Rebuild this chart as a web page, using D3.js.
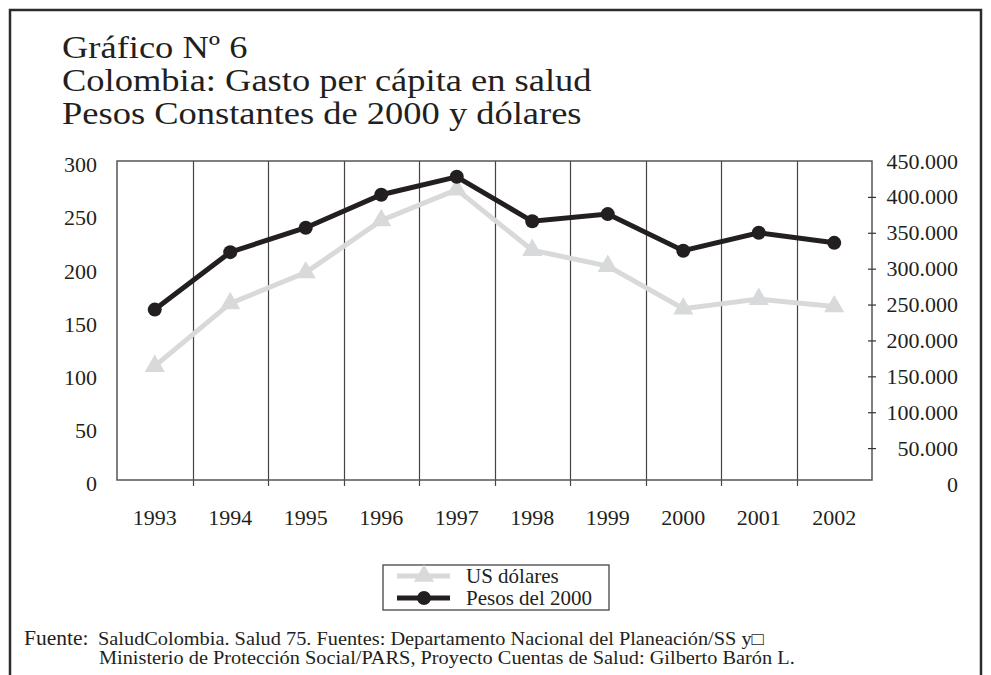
<!DOCTYPE html>
<html>
<head>
<meta charset="utf-8">
<script src="https://cdn.jsdelivr.net/npm/d3@7"></script>
<style>
    body { margin: 0; background: #fff; }
    text { font-family: "Liberation Serif", "Times New Roman", serif; fill: #231f20; }
</style>
</head>
<body>
<svg id="chart" width="991" height="675"></svg>
<script>
// datos
var years = ["1993", "1994", "1995", "1996", "1997", "1998", "1999", "2000", "2001", "2002"];
var usDolares = [109, 168, 197, 246, 275, 218, 203, 163, 172, 165];
var pesos2000 = [243000, 323000, 357000, 403000, 428000, 366000, 376000, 325000, 350000, 336000];
var leftTicks = [0, 50, 100, 150, 200, 250, 300];
var rightTicks = [0, 50000, 100000, 150000, 200000, 250000, 300000, 350000, 400000, 450000];
var titleLines = ["Gráfico Nº 6", "Colombia: Gasto per cápita en salud", "Pesos Constantes de 2000 y dólares"];
var seriesNames = ["US dólares", "Pesos del 2000"];
var fuenteLines = ["SaludColombia. Salud 75. Fuentes: Departamento Nacional del Planeación/SS y\u25A1",
    "Ministerio de Protección Social/PARS, Proyecto Cuentas de Salud: Gilberto Barón L."];

var svg = d3.select("#chart");
var plotL = 117, plotR = 872, plotT = 161, plotB = 480;
var gray = "#d8d9da", black = "#231f20", gridColor = "#444";

var es = d3.formatLocale({ decimal: ",", thousands: ".", grouping: [3], currency: ["$", ""] });
var fmtMiles = es.format(",");

var x = d3.scaleBand().domain(years).range([plotL, plotR]).padding(0);
var yL = d3.scaleLinear().domain([0, 300]).range([plotB + 2, plotT + 2]);
var yR = d3.scaleLinear().domain([0, 450000]).range([plotB + 4, plotT]);

// marco exterior
svg.append("path")
    .attr("d", "M10,675 V10 H981 V675")
    .attr("fill", "none")
    .attr("stroke", "#2b2b2b")
    .attr("stroke-width", 2.5);

// titulo (algo ensanchado, la fuente original es mas ancha)
svg.append("g").selectAll("text")
    .data(titleLines)
    .enter()
    .append("text")
    .attr("transform", function (d, i) { return "translate(62," + (58 + i * 33) + ") scale(1.14,1)"; })
    .attr("font-size", 32)
    .text(function (d) { return d; });

// lineas verticales entre años
svg.append("g").selectAll("line")
    .data(years.slice(1))
    .enter()
    .append("line")
    .attr("x1", function (d) { return Math.round(x(d)) + 0.5; })
    .attr("x2", function (d) { return Math.round(x(d)) + 0.5; })
    .attr("y1", plotT)
    .attr("y2", plotB + 6)
    .attr("stroke", gridColor)
    .attr("stroke-width", 1.2);

// recuadro del area de grafico
svg.append("rect")
    .attr("x", plotL)
    .attr("y", plotT)
    .attr("width", plotR - plotL)
    .attr("height", plotB - plotT)
    .attr("fill", "none")
    .attr("stroke", "#555")
    .attr("stroke-width", 1.5);

// eje izquierdo (US$)
var gL = svg.append("g")
    .attr("transform", "translate(" + plotL + ",0)")
    .call(d3.axisLeft(yL).tickValues(leftTicks).tickSize(0).tickPadding(20));
gL.select(".domain").remove();
gL.selectAll("text")
    .attr("dy", "0.4em")
    .attr("font-size", 22)
    .attr("font-family", null);

// eje derecho (pesos)
var gR = svg.append("g")
    .attr("transform", "translate(" + (plotR - 4) + ",0)")
    .call(d3.axisRight(yR).tickValues(rightTicks).tickSize(8).tickFormat(fmtMiles));
gR.select(".domain").remove();
gR.selectAll(".tick line")
    .attr("stroke", "#333")
    .attr("stroke-width", 1.2)
    .filter(function (d) { return d === 0 || d === 450000; })
    .remove();
gR.selectAll("text")
    .attr("x", 90)
    .attr("text-anchor", "end")
    .attr("font-size", 22)
    .attr("font-family", null);

// etiquetas de años
svg.append("g").selectAll("text")
    .data(years)
    .enter()
    .append("text")
    .attr("x", function (d) { return x(d) + x.bandwidth() / 2; })
    .attr("y", 525)
    .attr("text-anchor", "middle")
    .attr("font-size", 22)
    .text(function (d) { return d; });

var cx = function (i) { return x(years[i]) + x.bandwidth() / 2; };

// serie US dolares (gris, triangulos)
var lineUS = d3.line()
    .x(function (d, i) { return cx(i); })
    .y(function (d) { return yL(d); });
svg.append("path")
    .datum(usDolares)
    .attr("d", lineUS)
    .attr("fill", "none")
    .attr("stroke", gray)
    .attr("stroke-width", 5);
svg.append("g").selectAll("path")
    .data(usDolares)
    .enter()
    .append("path")
    .attr("transform", function (d, i) { return "translate(" + cx(i) + "," + yL(d) + ")"; })
    .attr("d", d3.symbol().type(d3.symbolTriangle).size(175))
    .attr("fill", gray);

// serie pesos del 2000 (negra, circulos)
var linePesos = d3.line()
    .x(function (d, i) { return cx(i); })
    .y(function (d) { return yR(d); });
svg.append("path")
    .datum(pesos2000)
    .attr("d", linePesos)
    .attr("fill", "none")
    .attr("stroke", black)
    .attr("stroke-width", 5);
svg.append("g").selectAll("circle")
    .data(pesos2000)
    .enter()
    .append("circle")
    .attr("cx", function (d, i) { return cx(i); })
    .attr("cy", function (d) { return yR(d); })
    .attr("r", 7)
    .attr("fill", black);

// leyenda
var legend = svg.append("g").attr("transform", "translate(383,565)");
legend.append("rect")
    .attr("width", 226)
    .attr("height", 45)
    .attr("fill", "#fff")
    .attr("stroke", "#444")
    .attr("stroke-width", 1.3);
var item = legend.selectAll("g.item")
    .data(seriesNames)
    .enter()
    .append("g")
    .classed("item", true)
    .attr("transform", function (d, i) { return "translate(0," + (11 + i * 22) + ")"; });
item.append("line")
    .attr("x1", 14)
    .attr("x2", 67)
    .attr("stroke", function (d, i) { return i === 0 ? gray : black; })
    .attr("stroke-width", 5);
item.append("path")
    .attr("transform", "translate(41,0)")
    .attr("d", function (d, i) {
        return i === 0 ? d3.symbol().type(d3.symbolTriangle).size(175)()
                       : d3.symbol().type(d3.symbolCircle).size(150)();
    })
    .attr("fill", function (d, i) { return i === 0 ? gray : black; });
item.append("text")
    .attr("x", 83)
    .attr("y", 7)
    .attr("font-size", 21)
    .text(function (d) { return d; });

// fuente
var fuente = svg.append("g");
fuente.append("text")
    .attr("transform", "translate(24,645) scale(1.05,1)")
    .attr("font-size", 20.5)
    .text("Fuente:");
fuente.selectAll("text.f")
    .data(fuenteLines)
    .enter()
    .append("text")
    .classed("f", true)
    .attr("transform", function (d, i) {
        return "translate(" + (i === 0 ? 98 : 99) + "," + (645 + i * 19) + ") scale(1.13,1)";
    })
    .attr("font-size", 18)
    .text(function (d) { return d; });
</script>
</body>
</html>
